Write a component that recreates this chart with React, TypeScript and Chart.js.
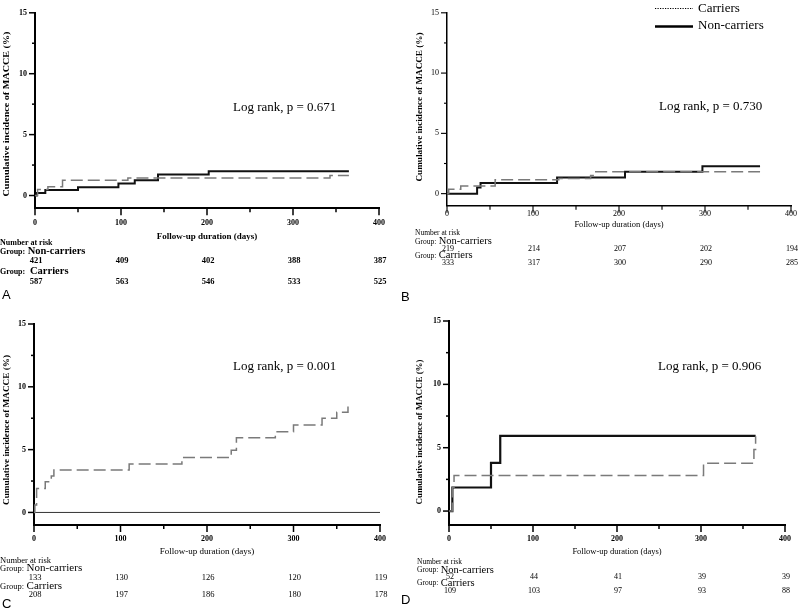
import React, { useEffect, useRef } from "react";
import { Chart, registerables } from "chart.js";
Chart.register(...registerables);

// ---------- data ----------
const xTicks = [0, 50, 100, 150, 200, 250, 300, 350, 400];
const xLabeled = [0, 100, 200, 300, 400];
const yTicks = [0, 2.5, 5, 7.5, 10, 12.5, 15];
const yLabeled = [0, 5, 10, 15];
const riskDays = [0, 100, 200, 300, 400];
const groupNames = ["Non-carriers", "Carriers"];
const panelLetters = ["A", "B", "C", "D"];
const pValues = ["0.671", "0.730", "0.001", "0.906"];
const yAxisTitle = "Cumulative incidence of MACCE (%)";
const xAxisTitle = "Follow-up duration (days)";

// Panel A
const aNonDays = [0, 2, 12, 50, 97, 116, 143, 202, 365];
const aNonPct = [0, 0.2, 0.45, 0.67, 0.99, 1.25, 1.73, 2.0, 2.0];
const aCarDays = [0, 3, 15, 32, 108, 343, 365];
const aCarPct = [0, 0.5, 0.72, 1.25, 1.44, 1.65, 1.65];
const aRiskNon = [421, 409, 402, 388, 387];
const aRiskCar = [587, 563, 546, 533, 525];

// Panel B
const bNonDays = [0, 35, 39, 128, 207, 297, 364];
const bNonPct = [0, 0.5, 0.89, 1.34, 1.81, 2.28, 2.28];
const bCarDays = [0, 2, 16, 56, 130, 167, 173, 364];
const bCarPct = [0, 0.37, 0.63, 1.15, 1.26, 1.5, 1.81, 1.81];
const bRiskNon = [219, 214, 207, 202, 194];
const bRiskCar = [333, 317, 300, 290, 285];

// Panel C
const cNonDays = [0, 400];
const cNonPct = [0, 0];
const cCarDays = [0, 1, 3, 13, 20, 23, 110, 171, 228, 234, 279, 300, 333, 350, 363];
const cCarPct = [0, 0.6, 1.9, 2.44, 2.9, 3.37, 3.85, 4.38, 4.96, 5.95, 6.42, 6.96, 7.49, 7.97, 8.55];
const cRiskNon = [133, 130, 126, 120, 119];
const cRiskCar = [208, 197, 186, 180, 178];

// Panel D
const dNonDays = [0, 4, 50, 61, 365];
const dNonPct = [0, 1.86, 3.81, 5.94, 5.94];
const dCarDays = [0, 4, 6, 303, 363, 365];
const dCarPct = [0, 1.86, 2.8, 3.78, 4.85, 5.9];
const dRiskNon = [52, 44, 41, 39, 39];
const dRiskCar = [109, 103, 97, 93, 88];

// ---------- layout ----------
const SERIF = "'Liberation Serif', 'DejaVu Serif', serif";
const SANS = "'Liberation Sans', Arial, sans-serif";

type Cfg = {
  idx: number;
  x: number; y: number; w: number; h: number;
  left: number; right: number; top: number; bottom: number; min: number;
  axisW: number; nonW: number; nonColor: string;
  tickBold: boolean; tableBold: boolean; xTickPad: number;
  yTitleX: number; yTitleY: number; yTitleSpan: number;
  xTitleY: number; xTitleSize: number; xTitleBold: boolean;
  headY: number; headSize: number; gNonY: number; nNonY: number; gCarY: number; nCarY: number;
  letterY: number; letterX: number;
  tableX: number; nonNameX: number; carNameX: number; nameSize: number; numSize: number;
  logX: number; logY: number;
  nonDays: number[]; nonPct: number[]; carDays: number[]; carPct: number[];
  riskNon: number[]; riskCar: number[];
  legend: boolean;
};

const panels: Cfg[] = [
  {
    idx: 0, x: 0, y: 0, w: 400, h: 305,
    left: 35, right: 379, top: 6.7, bottom: 208.3, min: -1.05,
    axisW: 2, nonW: 2, nonColor: "#111", tickBold: true, tableBold: true, xTickPad: 10,
    yTitleX: 7, yTitleY: 114, yTitleSpan: 165,
    xTitleY: 237, xTitleSize: 9, xTitleBold: true,
    headY: 243, headSize: 8, gNonY: 251.7, nNonY: 260.5, gCarY: 271, nCarY: 282,
    letterY: 295, letterX: 2,
    tableX: 0, nonNameX: 25, carNameX: 30, nameSize: 10.5, numSize: 8.5,
    logX: 233, logY: 108,
    nonDays: aNonDays, nonPct: aNonPct, carDays: aCarDays, carPct: aCarPct,
    riskNon: aRiskNon, riskCar: aRiskCar, legend: false,
  },
  {
    idx: 1, x: 400, y: 0, w: 400, h: 305,
    left: 47, right: 393, top: 4, bottom: 205.7, min: -1.0,
    axisW: 1.5, nonW: 2, nonColor: "#111", tickBold: false, tableBold: false, xTickPad: 3,
    yTitleX: 20, yTitleY: 107, yTitleSpan: 149,
    xTitleY: 225, xTitleSize: 8.5, xTitleBold: false,
    headY: 233, headSize: 7.5, gNonY: 241.7, nNonY: 249.3, gCarY: 255.7, nCarY: 262.7,
    letterY: 297, letterX: 1,
    tableX: 15, nonNameX: 35, carNameX: 37, nameSize: 10.5, numSize: 8,
    logX: 259, logY: 107,
    nonDays: bNonDays, nonPct: bNonPct, carDays: bCarDays, carPct: bCarPct,
    riskNon: bRiskNon, riskCar: bRiskCar, legend: true,
  },
  {
    idx: 2, x: 0, y: 305, w: 400, h: 306,
    left: 34, right: 380, top: 19, bottom: 220, min: -1.0,
    axisW: 2, nonW: 1, nonColor: "#333", tickBold: true, tableBold: false, xTickPad: 9,
    yTitleX: 7, yTitleY: 125, yTitleSpan: 150,
    xTitleY: 246.7, xTitleSize: 9, xTitleBold: false,
    headY: 255.7, headSize: 8.5, gNonY: 263.3, nNonY: 272.3, gCarY: 281, nCarY: 290,
    letterY: 299, letterX: 2,
    tableX: 0, nonNameX: 23, carNameX: 23, nameSize: 11, numSize: 8.5,
    logX: 233, logY: 61.7,
    nonDays: cNonDays, nonPct: cNonPct, carDays: cCarDays, carPct: cCarPct,
    riskNon: cRiskNon, riskCar: cRiskCar, legend: false,
  },
  {
    idx: 3, x: 400, y: 305, w: 400, h: 306,
    left: 49, right: 393, top: 16, bottom: 220, min: -1.1,
    axisW: 2, nonW: 2.2, nonColor: "#111", tickBold: true, tableBold: false, xTickPad: 9,
    yTitleX: 20, yTitleY: 127, yTitleSpan: 145,
    xTitleY: 246.7, xTitleSize: 8.5, xTitleBold: false,
    headY: 256.7, headSize: 7.5, gNonY: 265, nNonY: 271.5, gCarY: 278, nCarY: 285.7,
    letterY: 295, letterX: 1,
    tableX: 17, nonNameX: 37, carNameX: 37, nameSize: 10.5, numSize: 8,
    logX: 258, logY: 61.7,
    nonDays: dNonDays, nonPct: dNonPct, carDays: dCarDays, carPct: dCarPct,
    riskNon: dRiskNon, riskCar: dRiskCar, legend: false,
  },
];

function pts(days: number[], pct: number[]) {
  return days.map((d, i) => ({ x: d, y: pct[i] }));
}

function text(ctx: CanvasRenderingContext2D, s: string, x: number, y: number, font: string, align: CanvasTextAlign = "left") {
  ctx.font = font;
  ctx.textAlign = align;
  ctx.textBaseline = "middle";
  ctx.fillStyle = "#000";
  ctx.fillText(s, x, y);
}

function overlay(cfg: Cfg) {
  return {
    id: "overlay" + cfg.idx,
    afterDraw(chart: any) {
      const ctx: CanvasRenderingContext2D = chart.ctx;
      const xs = chart.scales.x;
      const ys = chart.scales.y;
      const ca = chart.chartArea;
      ctx.save();
      // tick marks
      ctx.strokeStyle = "#000";
      ctx.lineWidth = cfg.axisW * 0.75;
      for (const v of xTicks) {
        const px = xs.getPixelForValue(v);
        const len = xLabeled.includes(v) ? 7 : 4;
        ctx.beginPath();
        ctx.moveTo(px, ca.bottom);
        ctx.lineTo(px, ca.bottom + len);
        ctx.stroke();
      }
      for (const v of yTicks) {
        const py = ys.getPixelForValue(v);
        const len = yLabeled.includes(v) ? 6 : 3;
        ctx.beginPath();
        ctx.moveTo(ca.left - len, py);
        ctx.lineTo(ca.left, py);
        ctx.stroke();
      }
      // y title
      ctx.save();
      ctx.translate(cfg.yTitleX, cfg.yTitleY);
      ctx.rotate(-Math.PI / 2);
      ctx.font = `bold 7.5px ${SERIF}`;
      const tw = ctx.measureText(yAxisTitle).width;
      ctx.scale(cfg.yTitleSpan / tw, 1);
      ctx.textAlign = "center";
      ctx.textBaseline = "middle";
      ctx.fillStyle = "#000";
      ctx.fillText(yAxisTitle, 0, 0);
      ctx.restore();
      // x title
      const b = cfg.tableBold ? "bold " : "";
      text(ctx, xAxisTitle, (ca.left + ca.right) / 2, cfg.xTitleY, `${cfg.xTitleBold ? "bold " : ""}${cfg.xTitleSize}px ${SERIF}`, "center");
      // log rank
      text(ctx, `Log rank, p = ${pValues[cfg.idx]}`, cfg.logX, cfg.logY, `13px ${SERIF}`);
      // risk table
      const headFont = `${b}${cfg.headSize}px ${SERIF}`;
      text(ctx, "Number at risk", cfg.tableX, cfg.headY, headFont);
      ctx.font = headFont;
      const gw = ctx.measureText("Group:").width;
      text(ctx, "Group:", cfg.tableX, cfg.gNonY + 0.5, headFont);
      text(ctx, groupNames[0], Math.max(cfg.nonNameX, cfg.tableX + gw + 2.5), cfg.gNonY, `${b}${cfg.nameSize}px ${SERIF}`);
      text(ctx, "Group:", cfg.tableX, cfg.gCarY + 0.5, headFont);
      text(ctx, groupNames[1], Math.max(cfg.carNameX, cfg.tableX + gw + 2.5), cfg.gCarY, `${b}${cfg.nameSize}px ${SERIF}`);
      riskDays.forEach((d, i) => {
        const px = xs.getPixelForValue(d);
        text(ctx, String(cfg.riskNon[i]), px + 1, cfg.nNonY, `${b}${cfg.numSize}px ${SERIF}`, "center");
        text(ctx, String(cfg.riskCar[i]), px + 1, cfg.nCarY, `${b}${cfg.numSize}px ${SERIF}`, "center");
      });
      // panel letter
      text(ctx, panelLetters[cfg.idx], cfg.letterX, cfg.letterY, `13px ${SANS}`);
      // legend
      if (cfg.legend) {
        ctx.strokeStyle = "#000";
        ctx.lineWidth = 1.2;
        ctx.setLineDash([1.2, 1.3]);
        ctx.beginPath();
        ctx.moveTo(255, 8.5);
        ctx.lineTo(293, 8.5);
        ctx.stroke();
        ctx.setLineDash([]);
        ctx.lineWidth = 2.5;
        ctx.beginPath();
        ctx.moveTo(255, 26.5);
        ctx.lineTo(293, 26.5);
        ctx.stroke();
        text(ctx, groupNames[1], 298, 8.5, `13px ${SERIF}`);
        text(ctx, groupNames[0], 298, 26, `13px ${SERIF}`);
      }
      ctx.restore();
    },
  };
}

function Panel({ cfg }: { cfg: Cfg }) {
  const ref = useRef<HTMLCanvasElement>(null);
  useEffect(() => {
    const tickFont = { family: SERIF, size: 8, weight: cfg.tickBold ? "bold" : "normal" } as any;
    const chart = new Chart(ref.current!, {
      type: "line",
      data: {
        datasets: [
          {
            label: groupNames[1],
            data: pts(cfg.carDays, cfg.carPct),
            stepped: "before",
            borderColor: "#7a7a7a",
            borderWidth: 1.5,
            borderDash: [12, 5],
            pointRadius: 0,
            fill: false,
          },
          {
            label: groupNames[0],
            data: pts(cfg.nonDays, cfg.nonPct),
            stepped: "before",
            borderColor: cfg.nonColor,
            borderWidth: cfg.nonW,
            pointRadius: 0,
            fill: false,
          },
        ],
      },
      options: {
        animation: false,
        responsive: false,
        events: [],
        layout: { padding: { left: 0, right: cfg.w - cfg.right, top: cfg.top, bottom: 0 } },
        plugins: { legend: { display: false }, tooltip: { enabled: false }, title: { display: false } },
        scales: {
          x: {
            type: "linear",
            min: 0,
            max: 400,
            afterBuildTicks: (s: any) => {
              s.ticks = xTicks.map((v) => ({ value: v }));
            },
            afterFit: (s: any) => {
              s.height = cfg.h - cfg.bottom;
            },
            grid: { display: false, drawOnChartArea: false, drawTicks: false },
            border: { display: true, color: "#000", width: cfg.axisW },
            ticks: {
              autoSkip: false,
              maxRotation: 0,
              padding: cfg.xTickPad,
              color: "#000",
              font: tickFont,
              callback: (v: any) => (xLabeled.includes(Number(v)) ? String(v) : ""),
            },
          },
          y: {
            type: "linear",
            min: cfg.min,
            max: 15,
            afterBuildTicks: (s: any) => {
              s.ticks = yTicks.map((v) => ({ value: v }));
            },
            afterFit: (s: any) => {
              s.width = cfg.left;
            },
            grid: { display: false, drawOnChartArea: false, drawTicks: false },
            border: { display: true, color: "#000", width: cfg.axisW },
            ticks: {
              autoSkip: false,
              padding: 8,
              color: "#000",
              font: tickFont,
              callback: (v: any) => (yLabeled.includes(Number(v)) ? String(v) : ""),
            },
          },
        },
      } as any,
      plugins: [overlay(cfg)],
    });
    return () => chart.destroy();
  }, []);
  return (
    <canvas
      ref={ref}
      width={cfg.w}
      height={cfg.h}
      style={{ position: "absolute", left: cfg.x, top: cfg.y, width: cfg.w, height: cfg.h }}
    />
  );
}

export default function App() {
  return (
    <div style={{ position: "fixed", left: 0, top: 0, width: 800, height: 611, background: "#fff", overflow: "hidden" }}>
      {panels.map((p) => (
        <Panel key={p.idx} cfg={p} />
      ))}
    </div>
  );
}
